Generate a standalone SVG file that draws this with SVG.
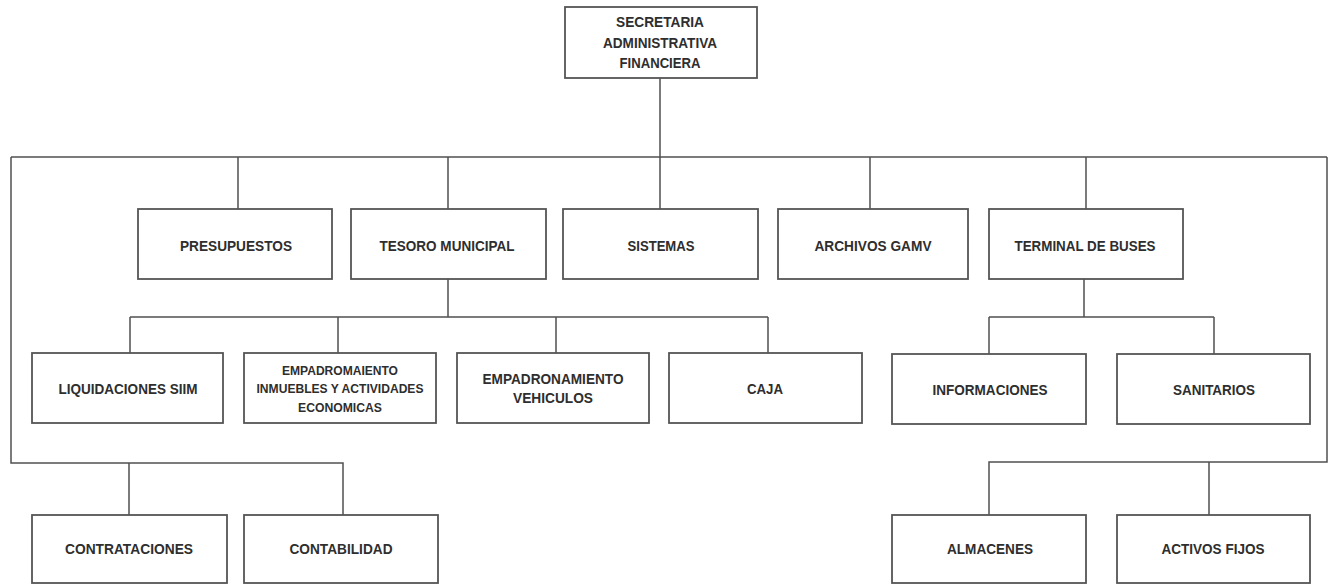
<svg xmlns="http://www.w3.org/2000/svg" width="1330" height="584" viewBox="0 0 1330 584">
<style>
.box{fill:#fff;stroke:#555;stroke-width:1.8}
.ln{fill:none;stroke:#505050;stroke-width:1.5}
text{font-family:"Liberation Sans",Arial,sans-serif;font-weight:bold;font-size:15.5px;fill:#2e2e2e;text-anchor:middle}
.tp{font-size:15px}
.sm{font-size:13px}
</style>
<rect width="1330" height="584" fill="#fff"/>
<g id="connectors">
<path class="ln" d="M660 78V157M11 157H1327M238 157V209M448 157V209M660 157V209M870 157V209M1086 157V209"/>
<path class="ln" d="M11 157V463H343V515M129 463V515M1327 157V462H989V515M1209 462V515"/>
<path class="ln" d="M448 279V317M130 317H768M130 317V353M338 317V353M556 317V353M768 317V353"/>
<path class="ln" d="M1084 279V317M989 317H1214M989 317V354M1214 317V354"/>
</g>
<g id="n-secretaria"><rect class="box" x="565" y="7" width="192" height="71"/>
<text class="tp" x="660" y="27" textLength="88" lengthAdjust="spacingAndGlyphs">SECRETARIA</text>
<text class="tp" x="660" y="48" textLength="114" lengthAdjust="spacingAndGlyphs">ADMINISTRATIVA</text>
<text class="tp" x="660" y="68" textLength="81" lengthAdjust="spacingAndGlyphs">FINANCIERA</text></g>
<g id="n-presupuestos"><rect class="box" x="138" y="209" width="194" height="70"/><text x="236" y="250.5" textLength="112" lengthAdjust="spacingAndGlyphs">PRESUPUESTOS</text></g>
<g id="n-tesoro"><rect class="box" x="351" y="209" width="195" height="70"/><text x="447" y="250.5" textLength="135" lengthAdjust="spacingAndGlyphs">TESORO MUNICIPAL</text></g>
<g id="n-sistemas"><rect class="box" x="563" y="209" width="195" height="70"/><text x="661" y="250.5" textLength="67" lengthAdjust="spacingAndGlyphs">SISTEMAS</text></g>
<g id="n-archivos"><rect class="box" x="778" y="209" width="190" height="70"/><text x="873" y="250.5" textLength="117" lengthAdjust="spacingAndGlyphs">ARCHIVOS GAMV</text></g>
<g id="n-terminal"><rect class="box" x="989" y="209" width="194" height="70"/><text x="1085" y="250.5" textLength="141" lengthAdjust="spacingAndGlyphs">TERMINAL DE BUSES</text></g>
<g id="n-liquidaciones"><rect class="box" x="32" y="353" width="191" height="70"/><text x="128" y="393.5" textLength="139" lengthAdjust="spacingAndGlyphs">LIQUIDACIONES SIIM</text></g>
<g id="n-empadromaiento"><rect class="box" x="244" y="353" width="192" height="70"/>
<text class="sm" x="340" y="374.5" textLength="116" lengthAdjust="spacingAndGlyphs">EMPADROMAIENTO</text>
<text class="sm" x="340" y="392.5" textLength="167" lengthAdjust="spacingAndGlyphs">INMUEBLES Y ACTIVIDADES</text>
<text class="sm" x="340" y="411.5" textLength="84" lengthAdjust="spacingAndGlyphs">ECONOMICAS</text></g>
<g id="n-vehiculos"><rect class="box" x="457" y="353" width="192" height="70"/>
<text x="553" y="383.5" textLength="141" lengthAdjust="spacingAndGlyphs">EMPADRONAMIENTO</text>
<text x="553" y="402.5" textLength="80" lengthAdjust="spacingAndGlyphs">VEHICULOS</text></g>
<g id="n-caja"><rect class="box" x="669" y="353" width="193" height="70"/><text x="765" y="393.5" textLength="36" lengthAdjust="spacingAndGlyphs">CAJA</text></g>
<g id="n-informaciones"><rect class="box" x="892" y="354" width="194" height="70"/><text x="990" y="394.5" textLength="115" lengthAdjust="spacingAndGlyphs">INFORMACIONES</text></g>
<g id="n-sanitarios"><rect class="box" x="1117" y="354" width="193" height="70"/><text x="1214" y="394.5" textLength="82" lengthAdjust="spacingAndGlyphs">SANITARIOS</text></g>
<g id="n-contrataciones"><rect class="box" x="32" y="515" width="195" height="68"/><text x="129" y="553.5" textLength="128" lengthAdjust="spacingAndGlyphs">CONTRATACIONES</text></g>
<g id="n-contabilidad"><rect class="box" x="244" y="515" width="194" height="68"/><text x="341" y="553.5" textLength="103" lengthAdjust="spacingAndGlyphs">CONTABILIDAD</text></g>
<g id="n-almacenes"><rect class="box" x="892" y="515" width="194" height="68"/><text x="990" y="553.5" textLength="86" lengthAdjust="spacingAndGlyphs">ALMACENES</text></g>
<g id="n-activos"><rect class="box" x="1117" y="515" width="193" height="68"/><text x="1213" y="553.5" textLength="103" lengthAdjust="spacingAndGlyphs">ACTIVOS FIJOS</text></g>
</svg>
